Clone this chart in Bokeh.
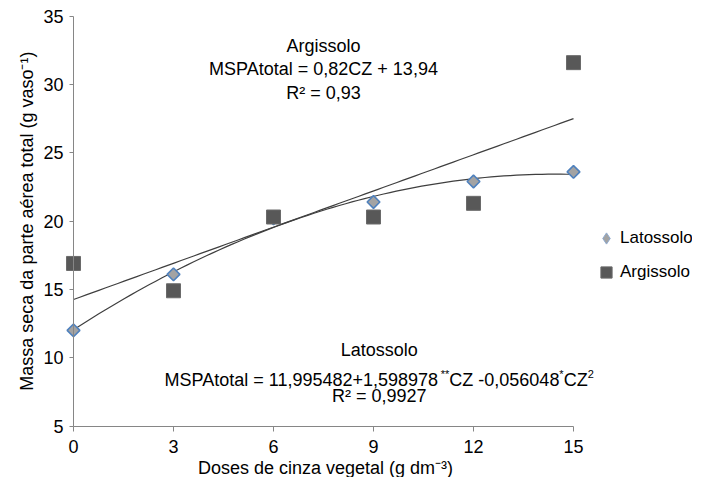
import numpy as np
from bokeh.plotting import figure
from bokeh.models import Range1d, FixedTicker, Legend, LegendItem, Label
from bokeh.embed import file_html
from bokeh.resources import INLINE

# ---- data ----
doses = [0, 3, 6, 9, 12, 15]
latossolo = [12.0, 16.1, 20.2, 21.4, 22.9, 23.6]
argissolo = [16.9, 14.9, 20.3, 20.3, 21.3, 31.6]
x_ticks = [0, 3, 6, 9, 12, 15]
y_ticks = [5, 10, 15, 20, 25, 30, 35]

# trendlines fitted to the data (as in the spreadsheet chart)
lat_coef = np.polyfit(doses, latossolo, 2)
arg_coef = np.polyfit(doses, argissolo, 1)
xs = np.linspace(min(doses), max(doses), 80)

FONT = "Liberation Sans"
FS = "18px"
W_FIG, H_FIG = 692, 477
PX_X = 500 / 15          # pixels per dose unit
PX_Y = 409.8 / 30        # pixels per y unit
X0_PX, Y35_PX = 73, 15.7  # where x=0 and y=35 sit

p = figure(width=W_FIG, height=H_FIG, output_backend="svg", toolbar_location=None,
           x_range=Range1d(-X0_PX / PX_X, (W_FIG - X0_PX) / PX_X),
           y_range=Range1d(35 - (H_FIG - Y35_PX) / PX_Y, 35 + Y35_PX / PX_Y),
           min_border=0)
p.outline_line_color = None
p.grid.grid_line_color = None

for ax in (p.xaxis[0], p.yaxis[0]):
    ax.axis_line_color = "#868686"
    ax.major_tick_line_color = "#868686"
    ax.minor_tick_line_color = None
    ax.major_tick_in = 0
    ax.major_label_text_font = FONT
    ax.major_label_text_font_size = FS
    ax.major_label_text_color = "#000000"

p.xaxis.ticker = FixedTicker(ticks=x_ticks)
p.xaxis.bounds = (0, 15)
p.xaxis.fixed_location = 5
p.xaxis.major_tick_out = 5
p.xaxis.major_label_standoff = 9

p.yaxis.ticker = FixedTicker(ticks=y_ticks)
p.yaxis.bounds = (5, 35)
p.yaxis.fixed_location = 0
p.yaxis.major_tick_out = 4
p.yaxis.major_label_standoff = 6

# trendlines
p.line(xs, np.polyval(arg_coef, xs), line_color="#3f3f3f", line_width=1.2)
p.line(xs, np.polyval(lat_coef, xs), line_color="#3f3f3f", line_width=1.2)

r_lat = p.scatter(doses, latossolo, marker="square", angle=np.pi / 4, size=9,
                  fill_color="#a3a3a3", line_color="#4f81bd", line_width=1.6)
r_arg = p.scatter(doses, argissolo, marker="square", size=14,
                  fill_color="#585858", line_color="#6a6a6a", line_width=1)
# legend key for Latossolo (diamond shape, as in the reference legend); hidden in plot
r_lat_key = p.scatter(doses, latossolo, marker="diamond", size=12, visible=False,
                      fill_color="#a3a3a3", line_color="#8da9cf", line_width=1)

legend = Legend(items=[LegendItem(label="Latossolo", renderers=[r_lat_key]),
                       LegendItem(label="Argissolo", renderers=[r_arg])],
                location=(592, 191), glyph_width=28, glyph_height=28,
                label_height=28, spacing=6, label_standoff=-3, padding=0, margin=0,
                border_line_alpha=0, background_fill_alpha=0,
                inactive_fill_alpha=0, click_policy="none",
                label_text_font=FONT, label_text_font_size="17px",
                label_text_color="#000000")
p.add_layout(legend, "center")

# ---- annotations ----
def lab(text, x, y, align="center", baseline="middle", size=FS, xoff=0, yoff=0, angle=0):
    p.add_layout(Label(x=x, y=y, text=text, text_align=align, text_baseline=baseline,
                       text_font=FONT, text_font_size=size, text_color="#000000",
                       x_offset=xoff, y_offset=yoff, angle=angle))

# axis titles
lab("Doses de cinza vegetal (g dm\u207b\u00b3)", 7.56, 1.9)
lab("Massa seca da parte a\u00e9rea total (g vaso\u207b\u00b9)", -1.41, 20.0, angle=np.pi / 2)

lab("Argissolo", 7.5, 32.8)
lab("MSPAtotal = 0,82CZ + 13,94", 7.5, 31.1)
lab("R\u00b2 = 0,93", 7.5, 29.35)

lab("Latossolo", 9.17, 10.6)
lab("R\u00b2 = 0,9927", 9.17, 7.16)

W = {'M': 833, 'S': 667, 'P': 667, 'A': 667, 't': 278, 'o': 556, 'a': 556, 'l': 222,
     ' ': 278, '=': 584, ',': 278, '+': 584, '-': 333, 'C': 722, 'Z': 611, '*': 389}
def width(s, px):
    return sum(W.get(c, 556) for c in s) * px / 1000.0

pieces = [("MSPAtotal = 11,995482+1,598978", False), ("**", True),
          ("CZ -0,056048", False), ("*", True), ("CZ", False), ("2", True)]
main_px, sup_px = 18, 11
total = sum(width(t, sup_px if s else main_px) for t, s in pieces)
off = -total / 2
for t, s in pieces:
    px = sup_px if s else main_px
    lab(t, 9.17, 8.37, align="left", baseline="alphabetic", size=f"{px}px",
        xoff=off, yoff=6 if s else 0)
    off += width(t, px)

open("out.html", "w").write(file_html(p, INLINE))
